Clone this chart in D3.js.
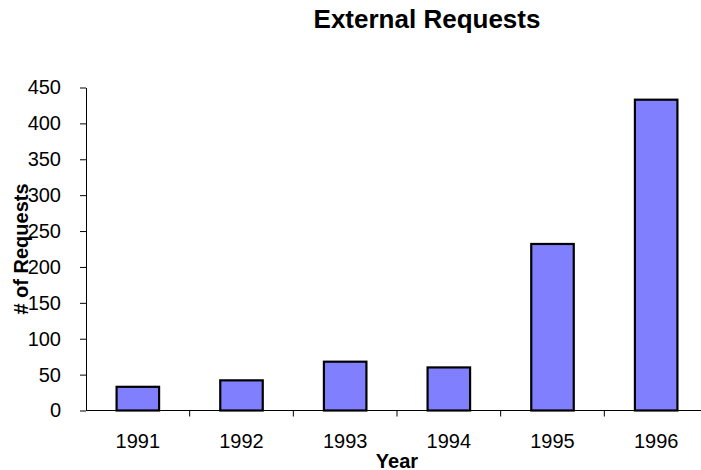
<!DOCTYPE html>
<html>
<head>
<meta charset="utf-8">
<script src="https://cdn.jsdelivr.net/npm/d3@7"></script>
<style>
  html, body { margin: 0; padding: 0; background: #fff; }
  svg { display: block; font-family: Arial, "Liberation Sans", sans-serif; }
</style>
</head>
<body>
<svg id="chart" width="701" height="470"></svg>
<script>
// External requests per year
const years = ["1991", "1992", "1993", "1994", "1995", "1996"];
const requests = [33, 42, 68, 60, 232, 433];
const yTicks = [0, 50, 100, 150, 200, 250, 300, 350, 400, 450];

const svg = d3.select("#chart");
const plotLeft = 86, plotRight = 708, plotTop = 87.5, plotBottom = 410.5;

const x = d3.scaleBand().domain(years).range([plotLeft, plotRight]);
const y = d3.scaleLinear().domain([0, 450]).range([plotBottom, plotTop]);
const barW = x.bandwidth() * 0.41;

// bars
svg.append("g").selectAll("rect")
  .data(years.map((yr, i) => ({ yr, v: requests[i] })))
  .join("rect")
  .attr("x", d => x(d.yr) + (x.bandwidth() - barW) / 2)
  .attr("y", d => y(d.v))
  .attr("width", barW)
  .attr("height", d => y(0) - y(d.v))
  .attr("fill", "#8080ff")
  .attr("stroke", "#000")
  .attr("stroke-width", 2.2);

// y axis
const yAxis = svg.append("g")
  .attr("transform", `translate(${plotLeft},0)`)
  .call(d3.axisLeft(y).tickValues(yTicks).tickSize(6).tickPadding(19).tickSizeOuter(0));
yAxis.select(".domain").attr("stroke", "#000");
yAxis.selectAll(".tick line").attr("stroke", "#000");
yAxis.selectAll(".tick text")
  .attr("font-size", 20).attr("font-family", "Arial, 'Liberation Sans', sans-serif")
  .attr("fill", "#000");

// x axis: ticks sit between categories
const xAxisG = svg.append("g").attr("transform", `translate(0,${plotBottom})`);
xAxisG.append("line")
  .attr("x1", plotLeft).attr("x2", plotRight)
  .attr("y1", 0).attr("y2", 0)
  .attr("stroke", "#000");
xAxisG.selectAll(".sep")
  .data(years.slice(1))
  .join("line")
  .attr("x1", d => x(d)).attr("x2", d => x(d))
  .attr("y1", 0).attr("y2", 6)
  .attr("stroke", "#000");
xAxisG.selectAll(".lbl")
  .data(years)
  .join("text")
  .attr("x", d => x(d) + x.bandwidth() / 2)
  .attr("y", 37)
  .attr("text-anchor", "middle")
  .attr("font-size", 20)
  .attr("fill", "#000")
  .text(d => d);

// titles
svg.append("text")
  .attr("x", 427).attr("y", 28)
  .attr("text-anchor", "middle")
  .attr("font-size", 26).attr("font-weight", "bold")
  .text("External Requests");

svg.append("text")
  .attr("x", (plotLeft + plotRight) / 2).attr("y", 467.5)
  .attr("text-anchor", "middle")
  .attr("font-size", 20).attr("font-weight", "bold")
  .text("Year");

svg.append("text")
  .attr("transform", `translate(28,${(plotTop + plotBottom) / 2}) rotate(-90)`)
  .attr("text-anchor", "middle")
  .attr("font-size", 20).attr("font-weight", "bold")
  .text("# of Requests");
</script>
</body>
</html>
